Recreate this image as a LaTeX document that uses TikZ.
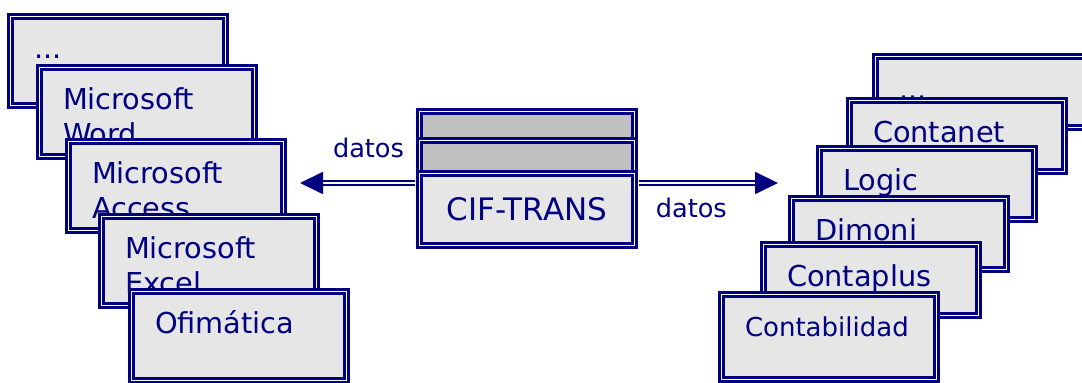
\documentclass[tikz,border=0pt]{standalone}
\usepackage{fontspec}
\setmainfont{DejaVu Sans}
\usetikzlibrary{arrows.meta, positioning}
\definecolor{navyblue}{RGB}{0,0,128}
\definecolor{boxgray}{RGB}{230,230,230}
\definecolor{bargray}{RGB}{192,192,192}

\begin{document}
\begin{tikzpicture}[
        x=0.5pt, y=-0.5pt,
        frame/.style={rectangle, draw=navyblue, line width=1.3pt, double=white, double distance=0.8pt, fill=boxgray, inner sep=0pt},
        app/.style={frame, text=navyblue, align=left, inner xsep=11.8pt, inner ysep=0pt, text width=84pt, text height=21pt, font=\fontsize{14.4}{17.5}\selectfont, execute at begin node={\baselineskip=17.5pt}},
        appl/.style={app, text depth=23.6pt},
        appr/.style={app, text depth=14.6pt},
        bar/.style={frame, fill=bargray, minimum width=107.6pt},
        flow/.style={draw=navyblue, line width=0.9pt, double=white, double distance=1pt, shorten <=1.7pt, -{Triangle[length=11.5pt, width=11pt]}},
        lbl/.style={text=navyblue, inner sep=0pt, font=\fontsize{12.8}{15}\selectfont}
    ]
        \useasboundingbox (0,0) rectangle (1082,383);

        % left stack
        \node[appl] (ldots) at (118,61) {...};
        \node[appl] (word) at (147,112) {Microsoft\\Word};
        \node[appl] (access) at (176,186) {Microsoft\\Access};
        \node[appl] (excel) at (209,261) {Microsoft\\Excel};
        \node[appl] (ofimatica) at (239,336) {Ofimática};

        % right stack
        \node[appr, text height=21.6pt, text depth=14pt] (rdots) at (983,92) {...};
        \node[appr] (contanet) at (957,136) {Contanet};
        \node[appr] (logic) at (927,184) {Logic};
        \node[appr] (dimoni) at (899,234) {Dimoni};
        \node[appr] (contaplus) at (871,280) {Contaplus};
        \node[appr, text depth=21.6pt, font=\fontsize{13}{16}\selectfont] (contabilidad) at (829,337) {Contabilidad};

        % CIF-TRANS
        \node[bar, minimum height=15.6pt] (bartop) at (527,127) {};
        \node[bar, minimum height=16.6pt] (barmid) at (527,157) {};
        \node[frame, minimum width=107.6pt, minimum height=36.1pt, text=navyblue, font=\fontsize{15.5}{18}\selectfont] (cif) at (527,209.5) {CIF-TRANS};

        \coordinate (tipL) at (300,183);
        \coordinate (tipR) at (778,183);
        \draw[flow] (cif.west |- tipL) -- node[lbl, pos=0.42, anchor=base, yshift=12.5pt] (datosL) {datos} (tipL);
        \draw[flow] (cif.east |- tipR) -- node[lbl, pos=0.39, anchor=base, yshift=-17.5pt] (datosR) {datos} (tipR);
    \end{tikzpicture}
\end{document}
